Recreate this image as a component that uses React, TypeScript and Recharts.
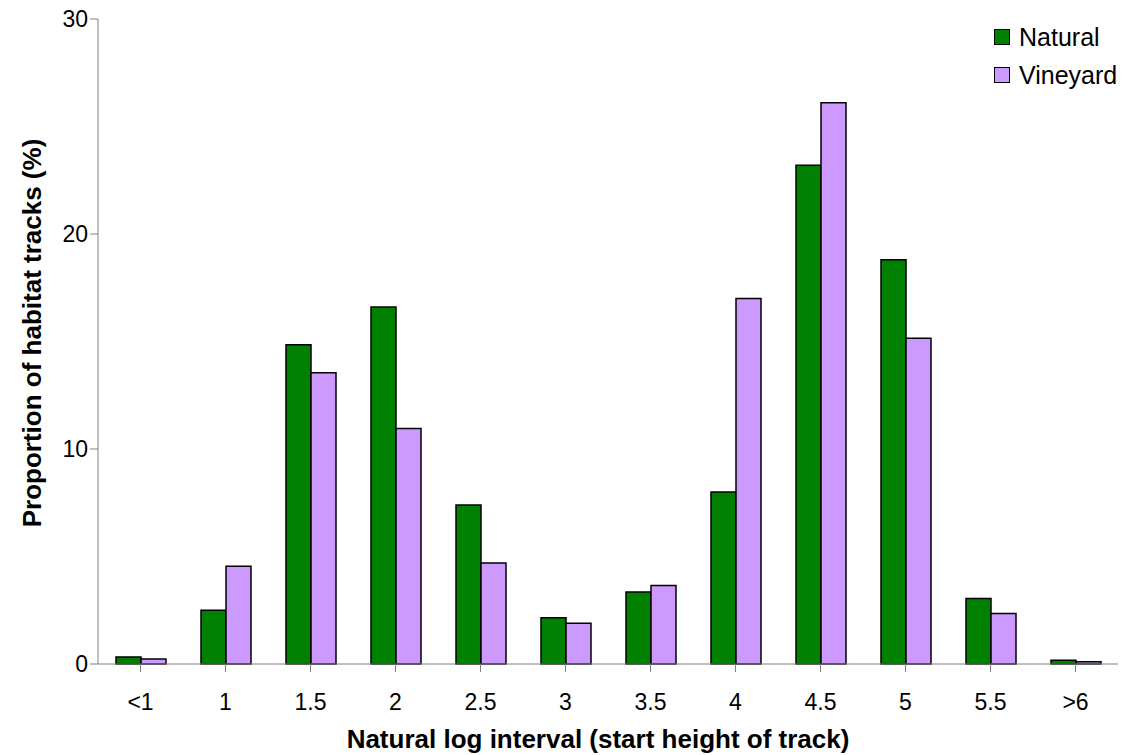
import { BarChart, Bar, XAxis, YAxis, Label } from 'recharts';

const intervals = ['<1', '1', '1.5', '2', '2.5', '3', '3.5', '4', '4.5', '5', '5.5', '>6'];
const natural = [0.33, 2.5, 14.85, 16.6, 7.4, 2.15, 3.35, 8.0, 23.2, 18.8, 3.05, 0.18];
const vineyard = [0.23, 4.55, 13.55, 10.95, 4.7, 1.9, 3.65, 17.0, 26.1, 15.15, 2.35, 0.1];
const yTicks = [0, 10, 20, 30];
const seriesNames = ['Natural', 'Vineyard'];
const seriesColors = ['#008000', '#CC99FF'];

const chartData = intervals.map((name, i) => ({
  name,
  natural: natural[i],
  vineyard: vineyard[i],
}));

const FONT = 'Liberation Sans, Arial, sans-serif';

export default function App() {
  document.body.style.margin = '0';
  return (
    <div style={{ position: 'relative', width: 1124, height: 755, background: '#fff' }}>
      <BarChart
        width={1124}
        height={755}
        data={chartData}
        margin={{ top: 19, right: 6, left: 0, bottom: 0 }}
        barGap={0}
        barSize={25}
      >
        <XAxis
          dataKey="name"
          height={91}
          stroke="#808080"
          tickSize={8}
          tick={{ fill: '#000', fontSize: 23, fontFamily: FONT, dy: 20 }}
          interval={0}
        >
          <Label
            content={() => (
              <text
                x={598}
                y={748}
                textAnchor="middle"
                fontFamily={FONT}
                fontSize={26}
                fontWeight="bold"
                fill="#000"
              >
                Natural log interval (start height of track)
              </text>
            )}
          />
        </XAxis>
        <YAxis
          width={98}
          domain={[0, 30]}
          ticks={yTicks}
          stroke="#808080"
          tickSize={8}
          tick={{ fill: '#000', fontSize: 23, fontFamily: FONT }}
        >
          <Label
            content={() => (
              <text
                x={0}
                y={0}
                transform="translate(41,333) rotate(-90)"
                textAnchor="middle"
                fontFamily={FONT}
                fontSize={26}
                fontWeight="bold"
                fill="#000"
              >
                Proportion of habitat tracks (%)
              </text>
            )}
          />
        </YAxis>
        <Bar dataKey="natural" name="Natural" fill="#008000" stroke="#000" strokeWidth={1.5} isAnimationActive={false} />
        <Bar dataKey="vineyard" name="Vineyard" fill="#CC99FF" stroke="#000" strokeWidth={1.5} isAnimationActive={false} />
      </BarChart>
      <div
        style={{
          position: 'absolute',
          left: 994,
          top: 18,
          fontFamily: FONT,
          fontSize: 25,
          color: '#000',
        }}
      >
        {seriesNames.map((n, i) => (
          <div key={n} style={{ display: 'flex', alignItems: 'center', height: 38 }}>
            <span
              style={{
                width: 14,
                height: 14,
                background: seriesColors[i],
                border: '1px solid #000',
                marginRight: 9,
                display: 'inline-block',
              }}
            />
            {n}
          </div>
        ))}
      </div>
    </div>
  );
}
